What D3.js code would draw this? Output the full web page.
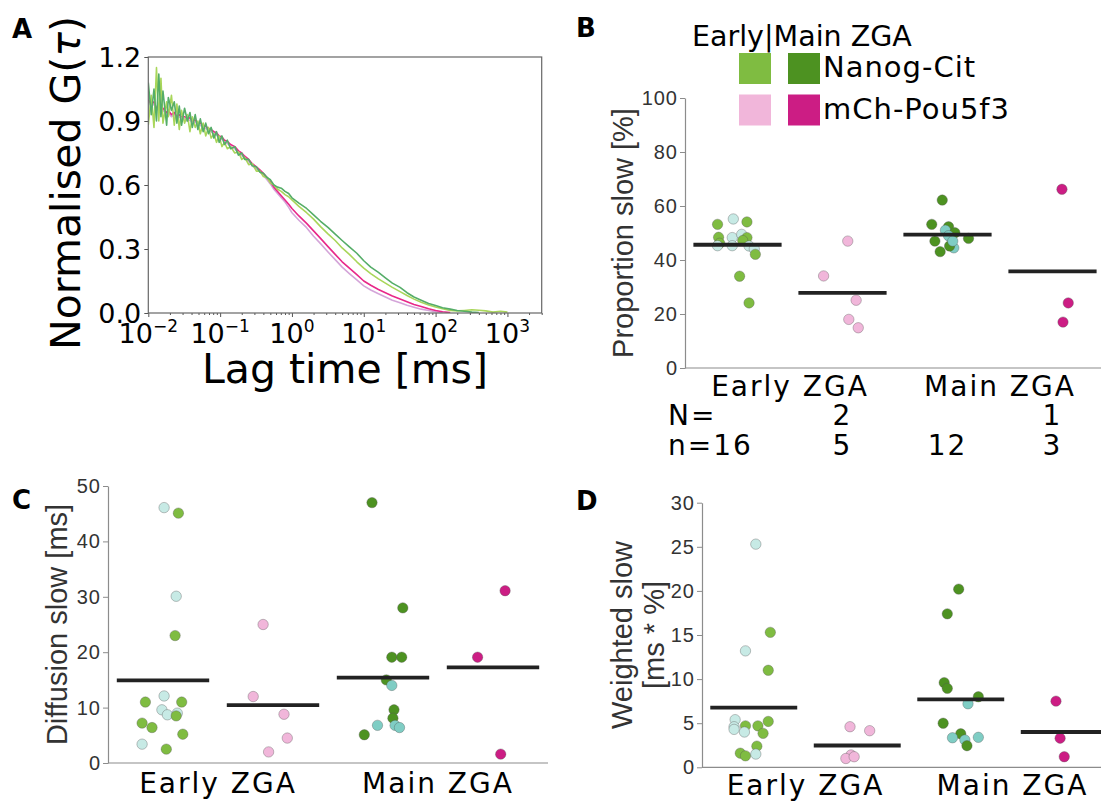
<!DOCTYPE html>
<html>
<head>
<meta charset="utf-8">
<script src="https://cdn.jsdelivr.net/npm/d3@7"></script>
<style>
  body { margin: 0; background: #fff; }
  svg { display: block; }
</style>
</head>
<body>
<div id="chart-area"></div>
<script>
// ---------------- data ----------------
// Panel A: normalised autocorrelation curves
var lagTimes = [0.010, 0.011, 0.012, 0.013, 0.014, 0.015, 0.016, 0.018, 0.019, 0.021,
  0.023, 0.025, 0.027, 0.029, 0.032, 0.035, 0.038, 0.041, 0.045, 0.049,
  0.053, 0.058, 0.063, 0.069, 0.075, 0.082, 0.089, 0.097, 0.106, 0.115,
  0.126, 0.14, 0.16, 0.18, 0.2, 0.22, 0.25, 0.28, 0.32, 0.36,
  0.4, 0.45, 0.5, 0.56, 0.63, 0.71, 0.8, 0.9, 1.0, 1.25,
  1.6, 2.0, 2.5, 3.2, 4.0, 5.0, 6.3, 8.0, 10, 12.5,
  16, 20, 25, 32, 40, 50, 63, 80, 100, 125,
  160, 200, 250, 320, 400, 500, 630, 800, 1000, 1250];

var gPouEarly = [0.99, 0.97, 0.98, 0.95, 0.96, 0.94, 0.95, 0.93, 0.94, 0.92,
  0.93, 0.91, 0.92, 0.91, 0.91, 0.90, 0.905, 0.89, 0.895, 0.88,
  0.88, 0.87, 0.865, 0.855, 0.85, 0.84, 0.835, 0.82, 0.815, 0.80,
  0.795, 0.78, 0.77, 0.75, 0.74, 0.725, 0.71, 0.69, 0.675, 0.66,
  0.645, 0.625, 0.605, 0.58, 0.56, 0.54, 0.52, 0.495, 0.47, 0.435,
  0.40, 0.36, 0.325, 0.285, 0.25, 0.215, 0.185, 0.155, 0.127, 0.108,
  0.09, 0.075, 0.06, 0.048, 0.036, 0.027, 0.018, 0.012, 0.006, 0.002,
  null, null, null, null, null, null, null, null, null, null];

var gPouMain = [1.00, 0.98, 0.99, 0.96, 0.97, 0.95, 0.96, 0.94, 0.95, 0.93,
  0.94, 0.92, 0.93, 0.92, 0.92, 0.91, 0.915, 0.90, 0.905, 0.89,
  0.89, 0.88, 0.875, 0.865, 0.86, 0.85, 0.845, 0.83, 0.825, 0.81,
  0.805, 0.79, 0.78, 0.76, 0.75, 0.735, 0.72, 0.70, 0.685, 0.67,
  0.655, 0.635, 0.615, 0.59, 0.57, 0.55, 0.53, 0.51, 0.49, 0.455,
  0.42, 0.385, 0.35, 0.31, 0.275, 0.24, 0.21, 0.18, 0.15, 0.13,
  0.11, 0.095, 0.08, 0.066, 0.053, 0.04, 0.03, 0.02, 0.012, 0.006,
  0.002, null, null, null, null, null, null, null, null, null];

var gNanogEarly = [0.88, 1.02, 0.87, 1.15, 0.90, 1.10, 0.89, 0.99, 0.92, 1.02,
  0.88, 0.98, 0.86, 0.95, 0.89, 0.93, 0.85, 0.92, 0.87, 0.90,
  0.84, 0.89, 0.83, 0.87, 0.82, 0.84, 0.80, 0.83, 0.78, 0.80,
  0.77, 0.78, 0.75, 0.755, 0.72, 0.73, 0.695, 0.70, 0.665, 0.665,
  0.64, 0.635, 0.61, 0.60, 0.58, 0.57, 0.555, 0.545, 0.53, 0.50,
  0.47, 0.44, 0.405, 0.37, 0.34, 0.305, 0.275, 0.24, 0.21, 0.185,
  0.16, 0.14, 0.12, 0.10, 0.082, 0.065, 0.05, 0.038, 0.028, 0.02,
  0.012, 0.01, 0.012, 0.015, 0.013, 0.01, 0.004, 0.008, 0.004, null];

var gNanogMain = [1.08, 0.93, 1.05, 0.90, 1.12, 0.92, 1.04, 0.88, 1.01, 0.95,
  0.99, 0.89, 0.97, 0.88, 0.96, 0.90, 0.94, 0.87, 0.93, 0.86,
  0.91, 0.85, 0.89, 0.84, 0.87, 0.82, 0.85, 0.80, 0.83, 0.79,
  0.81, 0.77, 0.78, 0.74, 0.75, 0.72, 0.72, 0.69, 0.685, 0.66,
  0.655, 0.635, 0.625, 0.60, 0.59, 0.585, 0.57, 0.56, 0.54, 0.515,
  0.49, 0.46, 0.43, 0.40, 0.37, 0.34, 0.31, 0.28, 0.245, 0.215,
  0.19, 0.165, 0.14, 0.12, 0.095, 0.075, 0.06, 0.045, 0.035, 0.025,
  0.018, 0.012, 0.008, 0.004, 0.002, null, null, null, null, null];

var lagTicks = [0.01, 0.1, 1, 10, 100, 1000];
var lagTickExp = ["\u22122", "\u22121", "0", "1", "2", "3"];
var gTicks = [0, 0.3, 0.6, 0.9, 1.2];

// Panels B-D: groups and per-cell values
var groups = ["Early Nanog-Cit", "Early mCh-Pou5f3", "Main Nanog-Cit", "Main mCh-Pou5f3"];
var stages = ["Early ZGA", "Main ZGA"];
var groupN = ["", "2", "", "1"];

var propSlow = [
  [53.2, 55.2, 54.1, 48.4, 48.3, 49.5, 48.3, 46.2, 45.3, 45.3, 47.2, 45.2, 44.1, 42.1, 34.0, 24.1],
  [47.0, 34.1, 25.1, 18.0, 14.9],
  [62.2, 53.2, 52.3, 51.0, 50.1, 49.0, 47.0, 48.0, 44.5, 45.2, 43.1, 47.0],
  [66.2, 24.1, 17.0]
];
var propBatch = [
  [1, 2, 1, 1, 2, 2, 1, 1, 2, 2, 1, 2, 2, 1, 1, 1],
  [1, 1, 1, 1, 1],
  [1, 1, 1, 2, 1, 2, 1, 1, 2, 1, 1, 2],
  [1, 1, 1]
];
var propJitter = [
  [-0.19, -0.04, 0.09, -0.18, -0.05, 0.04, 0.09, -0.17, -0.19, -0.05, 0.05, 0.11, 0.16, 0.17, 0.02, 0.11],
  [0.05, -0.18, 0.13, 0.06, 0.15],
  [-0.05, -0.15, 0.01, -0.02, 0.07, 0.01, -0.12, 0.20, 0.06, 0.02, -0.07, 0.05],
  [0.09, 0.15, 0.10]
];

var diffSlow = [
  [46.1, 45.1, 30.1, 23.0, 12.1, 11.0, 11.0, 9.6, 8.7, 9.0, 8.5, 7.2, 6.4, 5.2, 3.4, 2.5],
  [25.0, 12.0, 8.8, 4.5, 2.0],
  [47.0, 28.0, 19.1, 19.1, 15.0, 14.0, 9.6, 8.1, 6.8, 6.8, 6.4, 5.1],
  [31.1, 19.1, 1.6]
];
var diffBatch = [
  [2, 1, 2, 1, 2, 1, 1, 2, 2, 2, 1, 1, 1, 1, 2, 1],
  [1, 1, 1, 1, 1],
  [1, 1, 1, 1, 1, 2, 1, 1, 2, 2, 2, 1],
  [1, 1, 1]
];
var diffJitter = [
  [0.01, 0.14, 0.12, 0.11, 0.01, -0.16, 0.17, -0.01, 0.04, 0.13, 0.12, -0.19, -0.10, 0.18, -0.19, 0.03],
  [-0.09, -0.18, 0.10, 0.13, -0.04],
  [-0.10, 0.18, 0.08, 0.17, 0.03, 0.08, 0.10, 0.09, -0.05, 0.11, 0.15, -0.17],
  [0.11, -0.14, 0.07]
];

var weightedSlow = [
  [25.3, 15.3, 13.2, 11.0, 5.4, 5.2, 4.6, 4.7, 4.7, 4.3, 4.0, 3.85, 2.4, 1.6, 1.3, 1.5],
  [4.6, 4.15, 1.4, 1.0, 1.2],
  [20.2, 17.4, 9.6, 8.95, 8.0, 7.2, 5.0, 3.8, 3.35, 3.1, 3.4, 2.45],
  [7.5, 3.3, 1.2]
];
var weightedBatch = [
  [2, 1, 2, 1, 2, 1, 2, 1, 1, 2, 2, 1, 1, 1, 1, 2],
  [1, 1, 1, 1, 1],
  [1, 1, 1, 1, 1, 2, 1, 1, 2, 2, 2, 1],
  [1, 1, 1]
];
var weightedJitter = [
  [0.02, 0.16, -0.08, 0.14, -0.18, 0.14, -0.19, -0.08, 0.04, -0.19, -0.09, 0.09, 0.03, -0.13, -0.08, 0.02],
  [-0.07, 0.12, -0.06, -0.11, -0.03],
  [-0.02, -0.13, -0.16, -0.13, 0.17, 0.07, -0.17, 0.0, -0.08, 0.04, 0.17, 0.06],
  [-0.08, -0.04, 0.0]
];

var propTicks = [0, 20, 40, 60, 80, 100];
var diffTicks = [0, 10, 20, 30, 40, 50];
var weightedTicks = [0, 5, 10, 15, 20, 25, 30];

// ---------------- colours ----------------
var curveColors = ["#d4a5d9", "#e8288a", "#a9d65a", "#55ad68"];
var dotColors = [
  {1: "#7fbc41", 2: "#c7eae5"},
  {1: "#f1b6da"},
  {1: "#4d9221", 2: "#7fcdc4"},
  {1: "#cc1d84"}
];

var svg = d3.select("#chart-area").append("svg")
    .attr("width", 1101)
    .attr("height", 803);

svg.append("rect").attr("width", 1101).attr("height", 803).attr("fill", "#fff");

// panel letters
[["A", 12, 38], ["B", 576, 37], ["C", 12, 509], ["D", 576, 510]].forEach((p) => {
    svg.append("text")
        .attr("x", p[1]).attr("y", p[2])
        .attr("font-family", "DejaVu Sans").attr("font-weight", "bold")
        .attr("font-size", 26).text(p[0]);
});

// ---------------- Panel A ----------------
var aBox = {left: 148.3, right: 541.7, top: 57, bottom: 313};
var xA = d3.scaleLog().domain([0.01, 3000]).range([aBox.left, aBox.right]);
var yA = d3.scaleLinear().domain([0, 1.2]).range([aBox.bottom, aBox.top]);

var gA = svg.append("g");

gA.append("clipPath").attr("id", "clipA").append("rect")
    .attr("x", aBox.left).attr("y", aBox.top)
    .attr("width", aBox.right - aBox.left).attr("height", aBox.bottom - aBox.top);

var curveLine = d3.line()
    .defined((d) => d[1] != null)
    .x((d) => xA(d[0]))
    .y((d) => yA(d[1]));

[gPouEarly, gPouMain, gNanogEarly, gNanogMain].forEach((series, i) => {
    gA.append("path")
        .datum(lagTimes.map((t, j) => [t, series[j]]))
        .attr("clip-path", "url(#clipA)")
        .attr("fill", "none")
        .attr("stroke", curveColors[i])
        .attr("stroke-width", 1.6)
        .attr("stroke-linejoin", "round")
        .attr("d", curveLine);
});

// minor ticks
var minorTicks = xA.ticks().filter((t) => lagTicks.indexOf(t) < 0);
gA.append("g")
    .attr("transform", "translate(0," + aBox.bottom + ")")
    .call(d3.axisBottom(xA).tickValues(minorTicks).tickSize(2).tickFormat(""))
    .call((g) => g.select(".domain").remove())
    .selectAll("line").attr("stroke", "#555");

gA.append("g")
    .attr("transform", "translate(0," + aBox.bottom + ")")
    .call(d3.axisBottom(xA).tickValues(lagTicks).tickSize(4).tickFormat(""))
    .call((g) => g.select(".domain").remove())
    .selectAll("line").attr("stroke", "#555");

gA.append("g")
    .attr("transform", "translate(" + aBox.left + ",0)")
    .call(d3.axisLeft(yA).tickValues(gTicks).tickSize(4).tickFormat(""))
    .call((g) => g.select(".domain").remove())
    .selectAll("line").attr("stroke", "#555");

gA.append("rect")
    .attr("x", aBox.left).attr("y", aBox.top)
    .attr("width", aBox.right - aBox.left).attr("height", aBox.bottom - aBox.top)
    .attr("fill", "none").attr("stroke", "#666").attr("stroke-width", 1.2);

// y tick labels
gA.selectAll(".ylab").data(gTicks).enter().append("text")
    .attr("x", aBox.left - 7)
    .attr("y", (d) => yA(d))
    .attr("dy", "0.36em")
    .attr("text-anchor", "end")
    .attr("font-family", "DejaVu Sans").attr("font-size", 27)
    .text((d) => d3.format(".1f")(d));

// x tick labels 10^n
var xl = gA.selectAll(".xlab").data(lagTicks).enter().append("text")
    .attr("x", (d) => xA(d))
    .attr("y", 343)
    .attr("text-anchor", "middle")
    .attr("font-family", "DejaVu Sans").attr("font-size", 27);
xl.append("tspan").text("10");
xl.append("tspan").attr("dy", -11.5).attr("font-size", 17).text((d, i) => lagTickExp[i]);

gA.append("text")
    .attr("x", (aBox.left + aBox.right) / 2).attr("y", 383)
    .attr("text-anchor", "middle")
    .attr("font-family", "DejaVu Sans").attr("font-size", 41)
    .text("Lag time [ms]");

var yTitle = gA.append("text")
    .attr("transform", "translate(80,183) rotate(-90)")
    .attr("text-anchor", "middle")
    .attr("font-family", "DejaVu Sans").attr("font-size", 41);
yTitle.append("tspan").text("Normalised G(");
yTitle.append("tspan").attr("font-style", "italic").text("\u03c4");
yTitle.append("tspan").text(")");

// ---------------- strip panels ----------------
function stripPanel(cfg) {
    var g = svg.append("g");
    var x = d3.scaleBand().domain(groups).range(cfg.xRange);
    var y = d3.scaleLinear().domain(cfg.yDomain).range(cfg.yRange);
    var bw = x.bandwidth();

    // y axis
    var ya = g.append("g")
        .attr("transform", "translate(" + cfg.xRange[0] + ",0)")
        .call(d3.axisLeft(y).tickValues(cfg.ticks).tickSize(5).tickSizeOuter(0).tickPadding(2));
    ya.select(".domain").attr("stroke", "#8c8c8c").attr("stroke-width", 1.2);
    ya.selectAll(".tick line").attr("stroke", "#8c8c8c");
    ya.selectAll(".tick text")
        .attr("font-family", "Liberation Sans, Arial, sans-serif")
        .attr("font-size", 20).attr("letter-spacing", 1).attr("fill", "#333");

    // x axis line
    g.append("line")
        .attr("x1", cfg.xRange[0]).attr("x2", Math.min(cfg.xRange[1], 1101))
        .attr("y1", cfg.yRange[0]).attr("y2", cfg.yRange[0])
        .attr("stroke", "#8c8c8c").attr("stroke-width", 1.2);

    // points
    groups.forEach((grp, i) => {
        var pts = cfg.values[i].map((v, j) => ({v: v, b: cfg.batch[i][j], j: cfg.jitter[i][j]}));
        g.selectAll(".pt" + i).data(pts).enter().append("circle")
            .attr("cx", (d) => x(grp) + bw / 2 + d.j * bw)
            .attr("cy", (d) => y(d.v))
            .attr("r", 5.2)
            .attr("fill", (d) => dotColors[i][d.b])
            .attr("stroke", "#555")
            .attr("stroke-opacity", 0.6)
            .attr("stroke-width", 0.6);

        var m = d3.mean(cfg.values[i]);
        g.append("line")
            .attr("x1", x(grp) + bw * 0.08).attr("x2", x(grp) + bw * 0.92)
            .attr("y1", y(m)).attr("y2", y(m))
            .attr("stroke", "#222").attr("stroke-width", 3.8);
    });

    // stage labels
    stages.forEach((s, k) => {
        var cx = x(groups[2 * k]) + bw;
        g.append("text")
            .attr("x", cx).attr("y", cfg.stageY)
            .attr("text-anchor", "middle")
            .attr("font-family", "DejaVu Sans").attr("font-size", 28)
            .attr("letter-spacing", 2)
            .text(s);
    });

    // y title
    var t = g.append("text")
        .attr("transform", "translate(" + cfg.titleX[0] + "," + (cfg.yRange[0] + cfg.yRange[1]) / 2 + ") rotate(-90)")
        .attr("text-anchor", "middle")
        .attr("font-family", "Liberation Sans, Arial, sans-serif")
        .attr("font-size", 29).attr("fill", "#333");
    cfg.title.forEach((line, k) => {
        t.append("tspan")
            .attr("x", 0).attr("y", cfg.titleX[k] - cfg.titleX[0])
            .text(line);
    });
    return {x: x, bw: bw, g: g};
}

var pB = stripPanel({
    values: propSlow, batch: propBatch, jitter: propJitter,
    xRange: [685, 1105], yDomain: [0, 100], yRange: [368, 98],
    ticks: propTicks, stageY: 396,
    title: ["Proportion slow [%]"], titleX: [633]
});

// N / n rows under panel B
[["N=", 425, groupN], ["n=", 455, propSlow.map((v) => String(v.length))]].forEach((row) => {
    var lab = svg.append("text")
        .attr("x", 668).attr("y", row[1])
        .attr("font-family", "DejaVu Sans").attr("font-size", 28)
        .attr("letter-spacing", 2);
    lab.append("tspan").text(row[0]);
    lab.append("tspan").text(row[2][0]);
    row[2].forEach((s, i) => {
        if (i === 0) return;
        svg.append("text")
            .attr("x", pB.x(groups[i]) + pB.bw / 2).attr("y", row[1])
            .attr("text-anchor", "middle")
            .attr("font-family", "DejaVu Sans").attr("font-size", 28)
            .attr("letter-spacing", 2)
            .text(s);
    });
});

stripPanel({
    values: diffSlow, batch: diffBatch, jitter: diffJitter,
    xRange: [108, 548], yDomain: [0, 50], yRange: [763, 486],
    ticks: diffTicks, stageY: 793,
    title: ["Diffusion slow [ms]"], titleX: [67]
});

stripPanel({
    values: weightedSlow, batch: weightedBatch, jitter: weightedJitter,
    xRange: [702, 1116], yDomain: [0, 30], yRange: [767.3, 502.7],
    ticks: weightedTicks, stageY: 795,
    title: ["Weighted slow", "[ms * %]"], titleX: [632, 664]
});

// ---------------- legend (panel B) ----------------
var leg = svg.append("g");
leg.append("text")
    .attr("x", 692).attr("y", 46)
    .attr("font-family", "DejaVu Sans").attr("font-size", 28.5)
    .text("Early|Main ZGA");

var legendRows = [["Nanog-Cit", 0, 2], ["mCh-Pou5f3", 1, 3]];
legendRows.forEach((r, k) => {
    var yTop = 53 + k * 41.5;
    leg.append("rect").attr("x", 739).attr("y", yTop).attr("width", 32).attr("height", 31)
        .attr("fill", dotColors[r[1]][1]);
    leg.append("rect").attr("x", 788).attr("y", yTop).attr("width", 32).attr("height", 31)
        .attr("fill", dotColors[r[2]][1]);
    leg.append("text")
        .attr("x", 823).attr("y", yTop + 24)
        .attr("font-family", "DejaVu Sans").attr("font-size", 29)
        .attr("letter-spacing", 1)
        .text(r[0]);
});
</script>
